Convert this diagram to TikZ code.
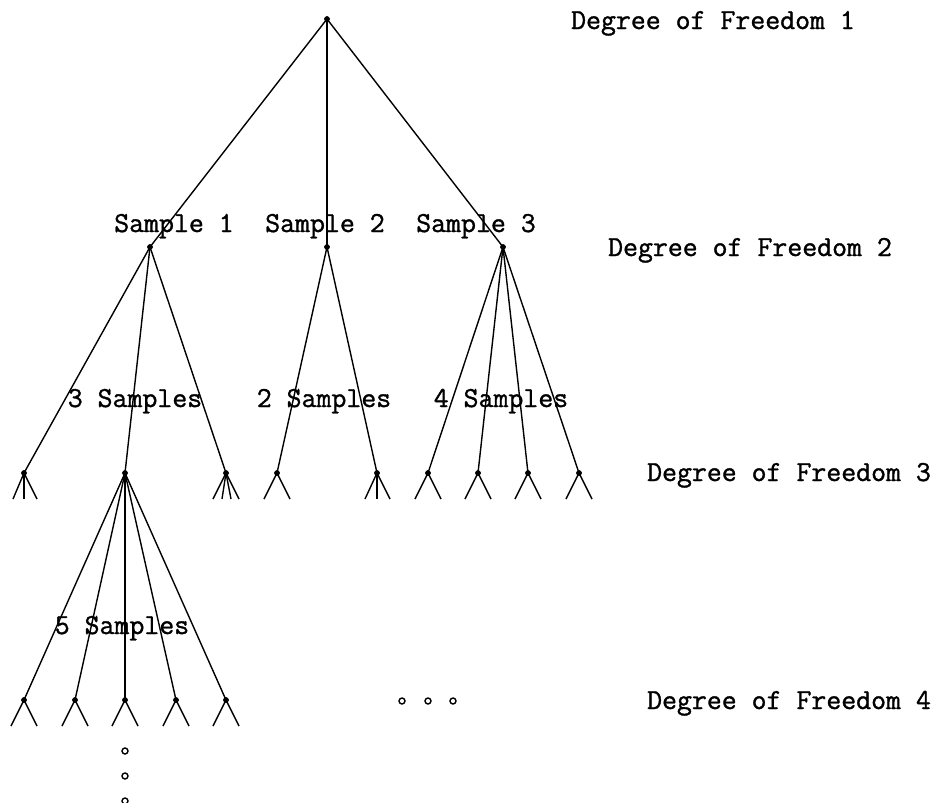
\documentclass[tikz,border=0pt]{standalone}
\usepackage{fontspec}
\newfontfamily\lbltt[FakeBold=1.2]{Latin Modern Mono}
\begin{document}
\begin{tikzpicture}[x=1pt,y=-1pt,line width=1.4pt,
  vtx/.style={circle,fill=black,draw=black,line width=0.6pt,inner sep=0pt,minimum size=5pt},
  ell/.style={circle,draw=black,line width=1.4pt,inner sep=0pt,minimum size=6pt},
  lbl/.style={anchor=base,inner sep=0pt,font=\lbltt\fontsize{29}{32}\selectfont}]
\useasboundingbox (0,0) rectangle (935,803);
% nodes
\node[vtx] (r) at (327,19) {};
\node[vtx] (s1) at (150,247) {};
\node[vtx] (s2) at (327,247) {};
\node[vtx] (s3) at (503,247) {};
\node[vtx] (a1) at (24,473) {};
\node[vtx] (a2) at (125,473) {};
\node[vtx] (a3) at (226,473) {};
\node[vtx] (b1) at (277,473) {};
\node[vtx] (b2) at (377,473) {};
\node[vtx] (c1) at (428,473) {};
\node[vtx] (c2) at (478,473) {};
\node[vtx] (c3) at (528,473) {};
\node[vtx] (c4) at (579,473) {};
\node[vtx] (d1) at (24,700) {};
\node[vtx] (d2) at (75,700) {};
\node[vtx] (d3) at (125,700) {};
\node[vtx] (d4) at (176,700) {};
\node[vtx] (d5) at (226,700) {};
% edges
\foreach \p/\c in {r/s1,r/s2,r/s3,s1/a1,s1/a2,s1/a3,s2/b1,s2/b2,s3/c1,s3/c2,s3/c3,s3/c4,a2/d1,a2/d2,a2/d3,a2/d4,a2/d5}
  \draw (\p.center) -- (\c.center);
% stubs
\foreach \n/\dx in {a1/-11,a1/0,a1/13,a3/-13,a3/-4,a3/5,a3/13,b1/-13,b1/13,b2/-12,b2/0,b2/13,
  c1/-13,c1/13,c2/-13,c2/13,c3/-13,c3/13,c4/-13,c4/13,
  d1/-13,d1/13,d2/-13,d2/13,d3/-13,d3/13,d4/-13,d4/13,d5/-13,d5/13}
  \draw (\n.center) -- ++(\dx,26);
% redraw vertices on top
\foreach \n in {r,s1,s2,s3,a1,a2,a3,b1,b2,c1,c2,c3,c4,d1,d2,d3,d4,d5}
  \fill (\n) circle (2.5pt);
% ellipsis dots
\node[ell] (h1) at (402,701) {};
\node[ell] (h2) at (428,701) {};
\node[ell] (h3) at (453,701) {};
\node[ell] (v1) at (125,751) {};
\node[ell] (v2) at (125,776) {};
\node[ell] (v3) at (125,801) {};
% labels
\node[lbl] (dof1) at (713,29) {Degree of Freedom 1};
\node[lbl] (dof2) at (750,256) {Degree of Freedom 2};
\node[lbl] (dof3) at (789,481) {Degree of Freedom 3};
\node[lbl] (dof4) at (789,709) {Degree of Freedom 4};
\node[lbl] (l1) at (174,232) {Sample 1};
\node[lbl] (l2) at (325,232) {Sample 2};
\node[lbl] (l3) at (476,232) {Sample 3};
\node[lbl] (m1) at (135,407) {3 Samples};
\node[lbl] (m2) at (324,407) {2 Samples};
\node[lbl] (m3) at (501,407) {4 Samples};
\node[lbl] (m4) at (122,634) {5 Samples};
\end{tikzpicture}
\end{document}
